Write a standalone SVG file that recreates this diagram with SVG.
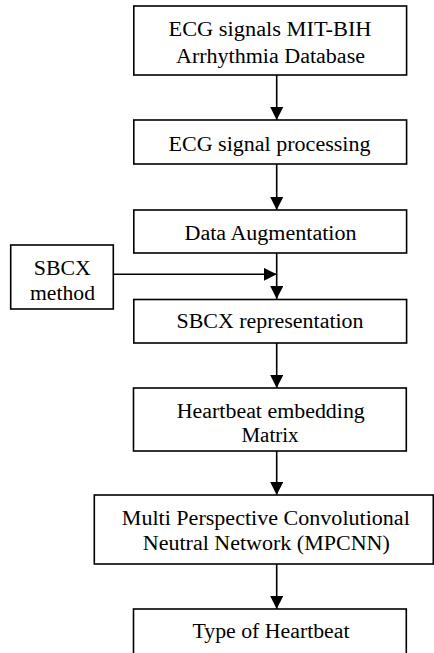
<svg xmlns="http://www.w3.org/2000/svg" width="434" height="653" viewBox="0 0 434 653">
<style>
.box{fill:#fff;stroke:#000;stroke-width:1.6}
.t{font-family:'Liberation Serif','Times New Roman','DejaVu Serif',serif;font-size:20px;fill:#000;text-anchor:middle}
.ln{stroke:#000;stroke-width:1.6;fill:none}
</style>
<defs>
<marker id="ah" markerWidth="13" markerHeight="13" refX="13" refY="6.5" orient="auto" markerUnits="userSpaceOnUse">
<path d="M0,0 L13,6.5 L0,13 Z" fill="#000"/>
</marker>
</defs>
<rect width="434" height="653" fill="#fff"/>
<g id="connectors">
<line class="ln" x1="276.7" y1="75" x2="276.7" y2="120" marker-end="url(#ah)"/>
<line class="ln" x1="276.7" y1="164" x2="276.7" y2="210" marker-end="url(#ah)"/>
<line class="ln" x1="276.7" y1="253" x2="276.7" y2="299" marker-end="url(#ah)"/>
<line class="ln" x1="113" y1="274.3" x2="276.7" y2="274.3" marker-end="url(#ah)"/>
<line class="ln" x1="276.7" y1="343" x2="276.7" y2="388" marker-end="url(#ah)"/>
<line class="ln" x1="276.7" y1="451" x2="276.7" y2="495" marker-end="url(#ah)"/>
<line class="ln" x1="276.7" y1="564" x2="276.7" y2="609" marker-end="url(#ah)"/>
</g>
<g id="n1">
<rect class="box" x="133.8" y="6" width="272.8" height="69"/>
<text class="t" font-family="Liberation Serif, serif" x="270" y="36" textLength="203" lengthAdjust="spacingAndGlyphs">ECG signals MIT-BIH</text>
<text class="t" font-family="Liberation Serif, serif" x="270.5" y="62.5" textLength="189" lengthAdjust="spacingAndGlyphs">Arrhythmia Database</text>
</g>
<g id="n2">
<rect class="box" x="133.8" y="120" width="272.8" height="44"/>
<text class="t" x="269.5" y="150.5" textLength="202" lengthAdjust="spacingAndGlyphs">ECG signal processing</text>
</g>
<g id="n3">
<rect class="box" x="133.8" y="210" width="272.8" height="43"/>
<text class="t" x="270.5" y="240" textLength="172" lengthAdjust="spacingAndGlyphs">Data Augmentation</text>
</g>
<g id="n_sbcx">
<rect class="box" x="10.7" y="245" width="102.6" height="64"/>
<text class="t" x="62.3" y="275" textLength="57" lengthAdjust="spacingAndGlyphs">SBCX</text>
<text class="t" x="62.5" y="300" textLength="65" lengthAdjust="spacingAndGlyphs">method</text>
</g>
<g id="n4">
<rect class="box" x="133.8" y="299.5" width="272.8" height="43.5"/>
<text class="t" x="270" y="328" textLength="187" lengthAdjust="spacingAndGlyphs">SBCX representation</text>
</g>
<g id="n5">
<rect class="box" x="133.5" y="388" width="272.8" height="63"/>
<text class="t" x="270.8" y="418" textLength="188" lengthAdjust="spacingAndGlyphs">Heartbeat embedding</text>
<text class="t" x="270" y="441.7" textLength="57" lengthAdjust="spacingAndGlyphs">Matrix</text>
</g>
<g id="n6">
<rect class="box" x="94.3" y="495" width="339" height="69"/>
<text class="t" x="265.8" y="525" textLength="288" lengthAdjust="spacingAndGlyphs">Multi Perspective Convolutional</text>
<text class="t" x="266.3" y="550" textLength="247" lengthAdjust="spacingAndGlyphs">Neutral Network (MPCNN)</text>
</g>
<g id="n7">
<rect class="box" x="133.5" y="609" width="272.8" height="60"/>
<text class="t" x="271" y="638" textLength="157" lengthAdjust="spacingAndGlyphs">Type of Heartbeat</text>
</g>
</svg>
